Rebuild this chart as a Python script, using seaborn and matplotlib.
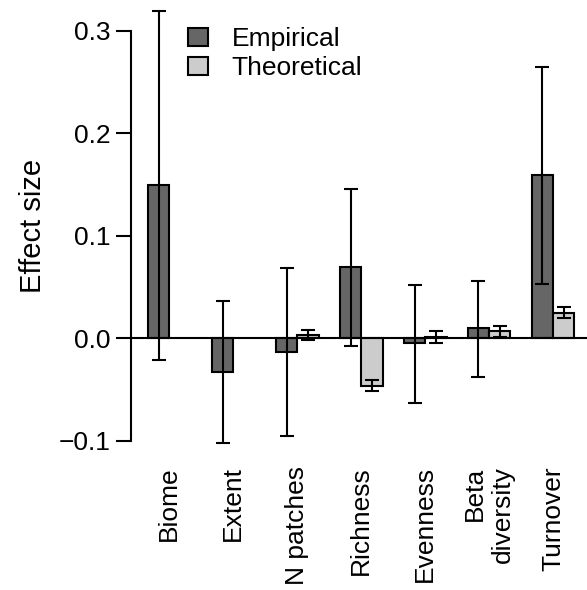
import numpy as np
import pandas as pd
import matplotlib
matplotlib.use("Agg")
import matplotlib.pyplot as plt
from matplotlib.patches import Patch
import seaborn as sns

# ---- data ----
categories = ["Biome", "Extent", "N patches", "Richness", "Evenness", "Beta\ndiversity", "Turnover"]
series = ["Empirical", "Theoretical"]

emp_values = [0.149, -0.033, -0.014, 0.069, -0.005, 0.0095, 0.159]
emp_lower = [-0.021, -0.102, -0.096, -0.008, -0.063, -0.038, 0.053]
emp_upper = [0.319, 0.036, 0.068, 0.145, 0.052, 0.056, 0.264]

theo_values = [np.nan, np.nan, 0.003, -0.047, 0.0007, 0.0068, 0.0245]
theo_lower = [np.nan, np.nan, -0.002, -0.0515, -0.0045, 0.0013, 0.0192]
theo_upper = [np.nan, np.nan, 0.0078, -0.041, 0.0068, 0.012, 0.0299]

y_ticks = [-0.1, 0.0, 0.1, 0.2, 0.3]
y_ticklabels = ["\u22120.1", "0.0", "0.1", "0.2", "0.3"]

colors = {"Empirical": "#666666", "Theoretical": "#CCCCCC"}

# ---- build table ----
rows = []
for i, c in enumerate(categories):
    for s, vals, lo, hi in [("Empirical", emp_values, emp_lower, emp_upper),
                            ("Theoretical", theo_values, theo_lower, theo_upper)]:
        if not np.isnan(vals[i]):
            rows.append({"category": c, "series": s, "value": vals[i],
                         "lower": lo[i], "upper": hi[i]})
df = pd.DataFrame(rows)

sns.set_theme(style="white")
plt.rcParams["font.family"] = ["Liberation Sans", "DejaVu Sans"]
plt.rcParams["font.size"] = 19
plt.rcParams["text.color"] = "black"
plt.rcParams["axes.labelcolor"] = "black"
plt.rcParams["xtick.color"] = "black"
plt.rcParams["ytick.color"] = "black"

fig = plt.figure(figsize=(5.87, 5.90), dpi=100)
W, H = 587, 590
ax = fig.add_axes([131 / W, 1 - 458 / H, 456 / W, 464.4 / H])

width = 2 / 3
sns.barplot(data=df, x="category", y="value", hue="series", order=categories,
            hue_order=series, palette=colors, saturation=1, width=width,
            edgecolor="black", linewidth=1.5, errorbar=None, legend=False, ax=ax)

# error bars
n = len(series)
for j, s in enumerate(series):
    offset = -width / 2 + width / n * (j + 0.5)
    sub = df[df["series"] == s]
    xs = [categories.index(c) + offset for c in sub["category"]]
    yerr = [sub["value"] - sub["lower"], sub["upper"] - sub["value"]]
    ax.errorbar(xs, sub["value"], yerr=yerr, fmt="none", ecolor="black",
                elinewidth=1.5, capsize=5, capthick=1.5, zorder=5)

ax.axhline(0, color="black", lw=1.5, zorder=4)

ax.set_xlim(-0.6, 6.53)
ax.set_ylim(-0.117, 0.336)

for sp in ["top", "right", "bottom"]:
    ax.spines[sp].set_visible(False)
ax.spines["left"].set_bounds(-0.1, 0.3)
ax.spines["left"].set_linewidth(1.5)
ax.spines["left"].set_color("black")

ax.set_yticks(y_ticks)
ax.set_yticklabels(y_ticklabels, fontsize=19, color="black")
ax.tick_params(axis="y", length=11, width=1.5, pad=3.5, color="black", left=True)

ax.set_xticks(range(len(categories)))
ax.set_xticklabels(categories, rotation=90, ha="center", va="top", ma="right",
                   fontsize=19, color="black")
ax.tick_params(axis="x", length=0, pad=6)

ax.set_xlabel("")
ax.set_ylabel("Effect size", fontsize=21, color="black")
ax.yaxis.set_label_coords(-0.185, 0.5)

handles = [Patch(facecolor=colors[s], edgecolor="black", linewidth=1.5, label=s) for s in series]
fig.legend(handles=handles, loc="upper left", bbox_to_anchor=(188 / W, 1 - 27 / H),
           frameon=False, fontsize=19, handlelength=0.76, handleheight=0.65,
           handletextpad=0.9, labelspacing=0.2, borderpad=0, borderaxespad=0,
           labelcolor="black")

fig.savefig("out.png", dpi=100)
